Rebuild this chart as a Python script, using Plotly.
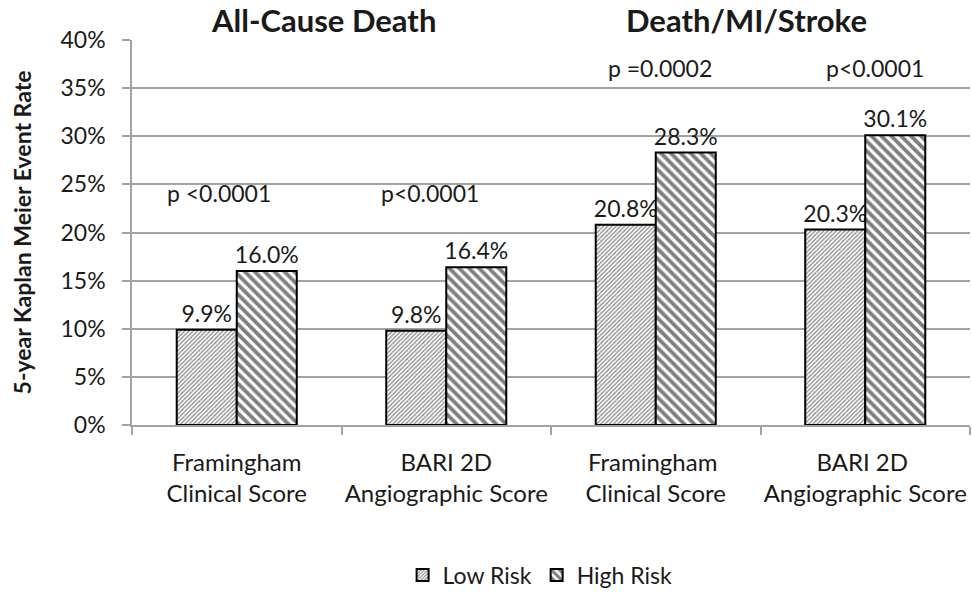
import plotly.graph_objects as go

# Outcome groups along the category axis (two-line labels)
categories = [
    "Framingham<br>Clinical Score",
    "BARI 2D<br>Angiographic Score",
    "Framingham <br>Clinical Score",
    "BARI 2D <br>Angiographic Score",
]
low_risk = [9.9, 9.8, 20.8, 20.3]
high_risk = [16.0, 16.4, 28.3, 30.1]
p_values = ["p <0.0001", "p<0.0001", "p =0.0002", "p<0.0001"]
p_label_y = [24.1, 24.1, 37.1, 37.1]
p_label_dx = [-0.085, -0.078, 0.02, 0.047]
panel_titles = ["All-Cause Death", "Death/MI/Stroke"]
panel_title_x = [0.228, 0.733]
y_ticks = [0, 5, 10, 15, 20, 25, 30, 35, 40]

FONT = "Lato"
INK = "#1a1a1a"
GRID = "#a3a3a3"

fig = go.Figure()

fig.add_trace(go.Bar(
    name="Low Risk",
    x=categories,
    y=low_risk,
    text=[f"{v:.1f}%" for v in low_risk],
    textposition="outside",
    constraintext="none",
    textfont=dict(family=FONT, size=23, color=INK),
    cliponaxis=False,
    marker=dict(
        color="white",
        line=dict(color="black", width=2),
        pattern=dict(shape="/", size=3, solidity=0.45, fgcolor="#1e1e1e", bgcolor="white"),
    ),
))
fig.add_trace(go.Bar(
    name="High Risk",
    x=categories,
    y=high_risk,
    text=[f"{v:.1f}%" for v in high_risk],
    textposition="outside",
    constraintext="none",
    textfont=dict(family=FONT, size=23, color=INK),
    cliponaxis=False,
    marker=dict(
        color="white",
        line=dict(color="black", width=2),
        pattern=dict(shape="\\", size=7, solidity=0.55, fgcolor="black", bgcolor="white"),
    ),
))

# p-value labels for each comparison
for i, (txt, yv, dx) in enumerate(zip(p_values, p_label_y, p_label_dx)):
    fig.add_annotation(
        x=i + dx, y=yv, xref="x", yref="y", text=txt, showarrow=False,
        font=dict(family=FONT, size=23, color=INK),
    )

# Panel headings over each outcome pair
for xp, title in zip(panel_title_x, panel_titles):
    fig.add_annotation(
        x=xp, y=1.0, xref="paper", yref="paper", yshift=20,
        xanchor="center", yanchor="middle",
        text="<b>" + title + "</b>", showarrow=False,
        font=dict(family=FONT, size=31, color=INK),
    )

fig.update_layout(
    width=972,
    height=593,
    margin=dict(l=132, r=2, t=40, b=168, autoexpand=False),
    paper_bgcolor="white",
    plot_bgcolor="white",
    barmode="group",
    bargap=0.427,
    bargroupgap=0,
    font=dict(family=FONT, color=INK),
    showlegend=True,
    legend=dict(
        orientation="h",
        x=0.487, xanchor="center",
        y=-0.39, yanchor="middle",
        font=dict(family=FONT, size=23, color=INK),
        itemwidth=30,
    ),
    xaxis=dict(
        type="category",
        automargin=False,
        tickangle=0,
        showline=True, linecolor=GRID, linewidth=1.5,
        ticks="outside", tickson="boundaries", ticklen=8, tickcolor=GRID, tickwidth=1.5,
        showgrid=False,
        ticklabelstandoff=15,
        tickfont=dict(family=FONT, size=24, color=INK),
    ),
    yaxis=dict(
        range=[0, 40],
        automargin=False,
        tickmode="array",
        tickvals=y_ticks,
        ticktext=[f"{v}%" for v in y_ticks],
        showline=True, linecolor=GRID, linewidth=1.5,
        ticks="outside", ticklen=8, tickcolor=GRID, tickwidth=1.5,
        showgrid=True, gridcolor=GRID, gridwidth=1.5,
        zeroline=False,
        ticklabelstandoff=12,
        tickfont=dict(family=FONT, size=23, color=INK),
        title=dict(text="<b>5-year Kaplan Meier Event Rate</b>",
                   font=dict(family=FONT, size=23, color=INK), standoff=22),
    ),
)

fig.write_html("out.html")
